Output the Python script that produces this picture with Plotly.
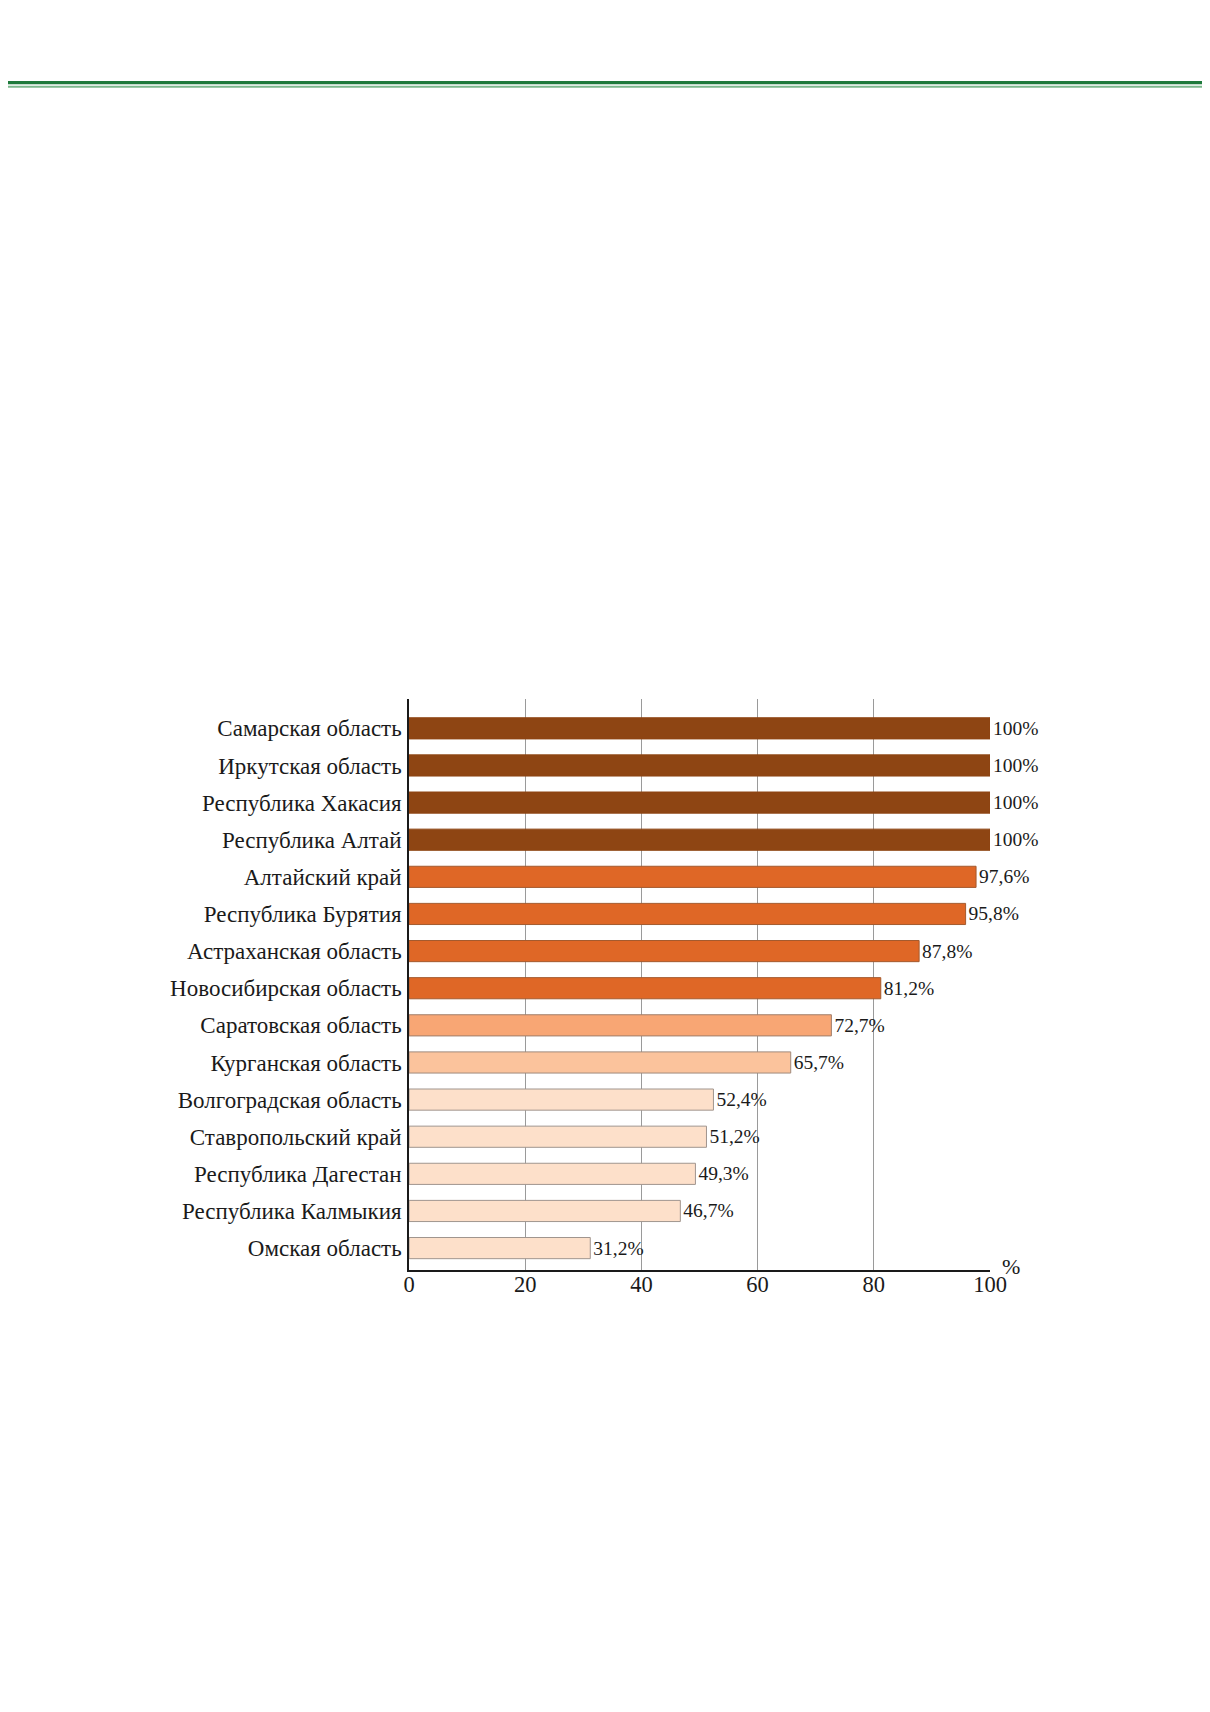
import plotly.graph_objects as go

# Data (top to bottom as in the reference)
regions = [
    "Самарская область",
    "Иркутская область",
    "Республика Хакасия",
    "Республика Алтай",
    "Алтайский край",
    "Республика Бурятия",
    "Астраханская область",
    "Новосибирская область",
    "Саратовская область",
    "Курганская область",
    "Волгоградская область",
    "Ставропольский край",
    "Республика Дагестан",
    "Республика Калмыкия",
    "Омская область",
]
values = [100, 100, 100, 100, 97.6, 95.8, 87.8, 81.2, 72.7, 65.7, 52.4, 51.2, 49.3, 46.7, 31.2]
x_ticks = [0, 20, 40, 60, 80, 100]

DARK = "#8E4513"
ORANGE = "#DF6726"
SALMON = "#F8A674"
PEACH = "#FBC39C"
LIGHT = "#FDE0CA"
fill_colors = [DARK, DARK, DARK, DARK, ORANGE, ORANGE, ORANGE, ORANGE,
               SALMON, PEACH, LIGHT, LIGHT, LIGHT, LIGHT, LIGHT]
line_colors = [DARK, DARK, DARK, DARK, "#A45A2E", "#A45A2E", "#A45A2E", "#A45A2E",
               "#A07E6A", "#A08A7C", "#A0958E", "#A0958E", "#A0958E", "#A0958E", "#A0958E"]


def fmt(v):
    s = f"{v:.1f}".replace(".", ",")
    if s.endswith(",0"):
        s = s[:-2]
    return s + "%"


labels = [fmt(v) for v in values]

# plot bottom-to-top
cats = regions[::-1]
vals = values[::-1]
fills = fill_colors[::-1]
lines = line_colors[::-1]
texts = labels[::-1]

FONT = "Liberation Serif"

fig = go.Figure(
    go.Bar(
        y=cats,
        x=vals,
        orientation="h",
        width=0.57,
        marker=dict(color=fills, line=dict(color=lines, width=1)),
        text=texts,
        textposition="outside",
        constraintext="none",
        cliponaxis=False,
        textfont=dict(family=FONT, size=19.5, color="#1a1a1a"),
        hoverinfo="skip",
    )
)

fig.update_layout(
    width=1210,
    height=1712,
    margin=dict(l=401, r=228, t=691, b=450, pad=0),
    paper_bgcolor="white",
    plot_bgcolor="white",
    showlegend=False,
    font=dict(family=FONT, color="#1a1a1a"),
)

fig.update_xaxes(
    range=[0, 100],
    tickvals=x_ticks,
    ticktext=[str(t) for t in x_ticks],
    tickfont=dict(family=FONT, size=22.5, color="#1a1a1a"),
    showgrid=True,
    gridcolor="#9a9a9a",
    gridwidth=1,
    showline=True,
    linecolor="#1a1a1a",
    linewidth=2,
    ticks="",
    ticklabelstandoff=-7,
    zeroline=False,
    fixedrange=True,
)

fig.update_yaxes(
    type="category",
    categoryorder="array",
    categoryarray=cats,
    range=[-0.59, 14.79],
    tickfont=dict(family=FONT, size=23, color="#1a1a1a"),
    showgrid=False,
    showline=True,
    linecolor="#1a1a1a",
    linewidth=1.5,
    ticks="",
    ticklabelstandoff=1,
    zeroline=False,
    fixedrange=True,
)

# "%" unit marker at the end of the x axis
fig.add_annotation(
    text="%",
    xref="paper", yref="paper",
    x=1.037, y=0.007,
    xanchor="center", yanchor="middle",
    showarrow=False,
    font=dict(family=FONT, size=22, color="#1a1a1a"),
)

# green header rules across the page
fig.add_shape(type="line", xref="paper", yref="paper",
              x0=-0.75, x1=1.45, y0=2.0793, y1=2.0793,
              line=dict(color="#1E7A3C", width=3.3))
fig.add_shape(type="line", xref="paper", yref="paper",
              x0=-0.75, x1=1.45, y0=2.0722, y1=2.0722,
              line=dict(color="#7DB88E", width=1.8))

fig.write_html("out.html")
